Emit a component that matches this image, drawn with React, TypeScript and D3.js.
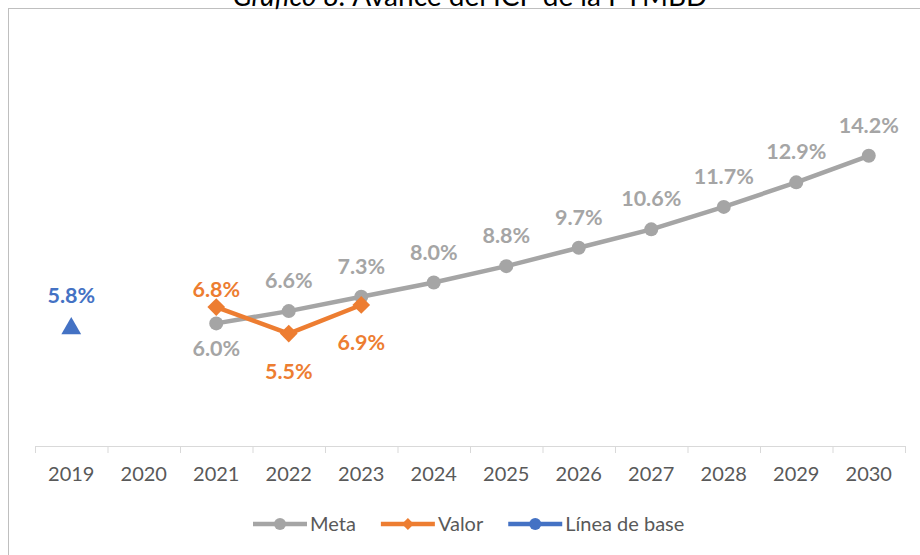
import React, { useEffect, useRef } from "react";
import * as d3 from "d3";

const years = ["2019", "2020", "2021", "2022", "2023", "2024", "2025", "2026", "2027", "2028", "2029", "2030"];
const metaYears = ["2021", "2022", "2023", "2024", "2025", "2026", "2027", "2028", "2029", "2030"];
const metaValues = [6.0, 6.6, 7.3, 8.0, 8.8, 9.7, 10.6, 11.7, 12.9, 14.2];
const valorYears = ["2021", "2022", "2023"];
const valorValues = [6.8, 5.5, 6.9];
const baseYears = ["2019"];
const baseValues = [5.8];
const legendNames = ["Meta", "Valor", "Línea de base"];
const titleLead = "Gráfico 8.";
const titleRest = " Avance del ICP de la PYMBD";

const GRAY = "#A5A5A5";
const ORANGE = "#ED7D31";
const BLUE = "#4472C4";
const FONT = "Lato, 'Open Sans', sans-serif";

export default function App() {
  const ref = useRef<SVGSVGElement>(null);

  useEffect(() => {
    const svg = d3.select(ref.current);
    svg.selectAll("*").remove();

    const width = 920, height = 555;
    const x = d3.scaleBand().domain(years).range([35, 905]);
    const cx = (d: string) => (x(d) as number) + x.bandwidth() / 2;
    const y = d3.scaleLinear().domain([0, 16]).range([446, 119]);

    // outer frame + title (cropped at the top like the source)
    svg.append("rect")
      .attr("x", 8.5).attr("y", 8.5)
      .attr("width", width).attr("height", height)
      .attr("fill", "white").attr("stroke", "#BFBFBF");
    const title = svg.append("text")
      .attr("x", 470).attr("y", 6)
      .attr("text-anchor", "middle")
      .attr("font-family", FONT).attr("font-size", 28).attr("fill", "#000");
    title.append("tspan").attr("font-style", "italic").text(titleLead);
    title.append("tspan").text(titleRest);

    // x axis
    const ax = svg.append("g");
    ax.append("line")
      .attr("x1", 35).attr("x2", 905).attr("y1", 446.5).attr("y2", 446.5)
      .attr("stroke", "#D9D9D9").attr("stroke-width", 1);
    ax.selectAll("line.tick")
      .data([...years, "end"])
      .enter().append("line")
      .attr("class", "tick")
      .attr("x1", (d) => (d === "end" ? 905 : (x(d) as number)) + 0.5)
      .attr("x2", (d) => (d === "end" ? 905 : (x(d) as number)) + 0.5)
      .attr("y1", 446).attr("y2", 453)
      .attr("stroke", "#D9D9D9");
    ax.selectAll("text")
      .data(years)
      .enter().append("text")
      .attr("x", (d) => cx(d))
      .attr("y", 481)
      .attr("text-anchor", "middle")
      .attr("font-family", FONT).attr("font-size", 20)
      .attr("fill", "#595959")
      .text((d) => d);

    const line = d3.line<[string, number]>()
      .x((d) => cx(d[0]))
      .y((d) => y(d[1]));

    // Meta
    const meta = metaYears.map((d, i) => [d, metaValues[i]] as [string, number]);
    svg.append("path")
      .datum(meta)
      .attr("d", line)
      .attr("fill", "none").attr("stroke", GRAY).attr("stroke-width", 4.5)
      .attr("stroke-linejoin", "round");
    svg.selectAll("circle.meta")
      .data(meta).enter().append("circle")
      .attr("class", "meta")
      .attr("cx", (d) => cx(d[0])).attr("cy", (d) => y(d[1]))
      .attr("r", 7).attr("fill", GRAY);

    // Valor
    const valor = valorYears.map((d, i) => [d, valorValues[i]] as [string, number]);
    svg.append("path")
      .datum(valor)
      .attr("d", line)
      .attr("fill", "none").attr("stroke", ORANGE).attr("stroke-width", 4.5)
      .attr("stroke-linejoin", "round");
    const diamond = d3.symbol().type(d3.symbolDiamond2).size(200);
    svg.selectAll("path.valor")
      .data(valor).enter().append("path")
      .attr("class", "valor")
      .attr("transform", (d) => `translate(${cx(d[0])},${y(d[1])})`)
      .attr("d", diamond)
      .attr("fill", ORANGE);

    // Linea de base
    const base = baseYears.map((d, i) => [d, baseValues[i]] as [string, number]);
    const tri = d3.symbol().type(d3.symbolTriangle).size(170);
    svg.selectAll("path.base")
      .data(base).enter().append("path")
      .attr("class", "base")
      .attr("transform", (d) => `translate(${cx(d[0])},${y(d[1]) + 1})`)
      .attr("d", tri)
      .attr("fill", BLUE);

    // data labels
    const fmt = (v: number) => v.toFixed(1) + "%";
    const label = (data: [string, number][], color: string, dy: (i: number) => number) => {
      svg.append("g").selectAll("text")
        .data(data).enter().append("text")
        .attr("x", (d) => cx(d[0]))
        .attr("y", (d, i) => y(d[1]) + dy(i))
        .attr("text-anchor", "middle")
        .attr("font-family", FONT).attr("font-size", 21.5).attr("font-weight", "bold")
        .attr("fill", color)
        .text((d) => fmt(d[1]));
    };
    label(meta, GRAY, (i) => (i === 0 ? 33 : -23));
    label(valor, ORANGE, (i) => (i === 0 ? -10 : 45));
    label(base, BLUE, () => -24);

    // legend
    const legend = svg.append("g").attr("transform", "translate(0,524)");
    const colors = [GRAY, ORANGE, BLUE];
    let lx = 253;
    legendNames.forEach((name, i) => {
      const g = legend.append("g").attr("transform", `translate(${lx},0)`);
      g.append("line").attr("x1", 0).attr("x2", 54).attr("y1", 0).attr("y2", 0)
        .attr("stroke", colors[i]).attr("stroke-width", 4.5);
      if (i === 1) {
        g.append("path").attr("transform", "translate(27,0)")
          .attr("d", d3.symbol().type(d3.symbolDiamond2).size(90)).attr("fill", colors[i]);
      } else {
        g.append("circle").attr("cx", 27).attr("cy", 0).attr("r", 6).attr("fill", colors[i]);
      }
      const t = g.append("text").attr("x", 57).attr("y", 7)
        .attr("font-family", FONT).attr("font-size", 20).attr("fill", "#595959")
        .text(name);
      const w = (t.node() as SVGTextElement).getComputedTextLength();
      lx += 57 + w + 25;
    });
  }, []);

  return (
    <svg ref={ref} width={920} height={555}
      style={{ position: "absolute", left: 0, top: 0, background: "white" }} />
  );
}
